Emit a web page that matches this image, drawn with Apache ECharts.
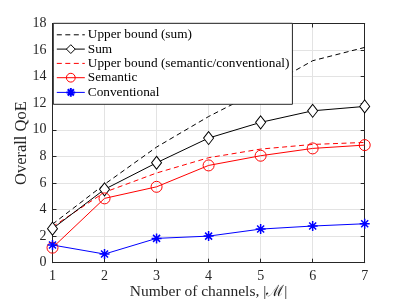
<!DOCTYPE html>
<html><head><meta charset="utf-8">
<script src="https://cdn.jsdelivr.net/npm/echarts@6/dist/echarts.min.js"></script>
<style>html,body{margin:0;padding:0;background:#fff}#c{width:403px;height:302px}</style>
</head><body><div id="c"></div>
<script>
const channels = [1, 2, 3, 4, 5, 6, 7];
const yTicks = [0, 2, 4, 6, 8, 10, 12, 14, 16, 18];
const upperSum = [2.9, 5.9, 8.7, 11.0, 13.0, 15.2, 16.2];
const sumQoE = [2.56, 5.52, 7.52, 9.38, 10.56, 11.43, 11.76];
const upperSem = [2.7, 5.3, 6.75, 7.9, 8.55, 8.9, 9.05];
const semantic = [1.13, 4.84, 5.71, 7.32, 8.05, 8.6, 8.85];
const conventional = [1.33, 0.65, 1.83, 2.0, 2.53, 2.76, 2.93];
const names = ['Upper bound (sum)', 'Sum', 'Upper bound (semantic/conventional)', 'Semantic', 'Conventional'];

const pairs = a => channels.map((x, i) => [x, a[i]]);
const FONT = 'Liberation Serif';
const axisCol = '#262626';
const asterisk = 'path://M0,-10L0,10M-10,0L10,0M-7,-7L7,7M-7,7L7,-7';
const dash = [5, 3.5];

const chart = echarts.init(document.getElementById('c'), null, {renderer: 'canvas'});
const baseX = {type: 'value', min: 1, max: 7, interval: 1,
  axisLine: {show: true, onZero: false, lineStyle: {color: axisCol, width: 1}},
  axisTick: {show: true, inside: true, length: 4, lineStyle: {color: axisCol}}};
const baseY = {type: 'value', min: 0, max: 18, interval: 2,
  axisLine: {show: true, onZero: false, lineStyle: {color: axisCol, width: 1}},
  axisTick: {show: true, inside: true, length: 4, lineStyle: {color: axisCol}}};
chart.setOption({
  animation: false,
  grid: {left: 52.5, right: 38.3, top: 23.5, bottom: 39.3, outerBoundsMode: 'none', containLabel: false},
  xAxis: [
    Object.assign({}, baseX, {position: 'bottom',
      name: 'Number of channels, |ℳ|', nameLocation: 'middle', nameGap: 21, nameMoveOverlap: false,
      nameTextStyle: {fontFamily: FONT, fontSize: 15.5, color: '#262626'},
      axisLabel: {fontFamily: FONT, fontSize: 14, color: '#262626', margin: 7},
      splitLine: {show: true, lineStyle: {color: '#e3e3e3', width: 1}}}),
    Object.assign({}, baseX, {position: 'top', axisLabel: {show: false}, splitLine: {show: false}})
  ],
  yAxis: [
    Object.assign({}, baseY, {position: 'left',
      name: 'Overall QoE', nameLocation: 'middle', nameGap: 22, nameMoveOverlap: false,
      nameTextStyle: {fontFamily: FONT, fontSize: 16.5, color: '#262626'},
      axisLabel: {fontFamily: FONT, fontSize: 14, color: '#262626', margin: 6,
        formatter: v => yTicks.includes(v) ? String(v) : ''},
      splitLine: {show: true, lineStyle: {color: '#e3e3e3', width: 1}}}),
    Object.assign({}, baseY, {position: 'right', axisLabel: {show: false}, splitLine: {show: false}})
  ],
  legend: {
    orient: 'vertical', left: 53.3, top: 23.3,
    data: [
      {name: names[0], itemStyle: {opacity: 0}},
      {name: names[1], itemStyle: {borderWidth: 1}},
      {name: names[2], itemStyle: {opacity: 0}},
      {name: names[3], itemStyle: {borderWidth: 1}},
      {name: names[4]}
    ],
    backgroundColor: '#fff', borderColor: axisCol, borderWidth: 1,
    padding: [5, 3, 5, 3], itemGap: 1.3, itemWidth: 28, itemHeight: 11,
    lineStyle: {width: 1},
    textStyle: {fontFamily: FONT, fontSize: 13.3, lineHeight: 11, color: '#000', padding: [0, 0, 0, -2]}
  },
  series: [
    {name: names[0], type: 'line', data: pairs(upperSum), symbol: 'none',
      lineStyle: {color: '#000', width: 1, type: dash}, itemStyle: {color: '#000'}, z: 3},
    {name: names[1], type: 'line', data: pairs(sumQoE), symbol: 'diamond', symbolSize: [10, 13],
      lineStyle: {color: '#000', width: 1}, itemStyle: {color: '#fff', borderColor: '#000', borderWidth: 1}, z: 4},
    {name: names[2], type: 'line', data: pairs(upperSem), symbol: 'none',
      lineStyle: {color: '#ff0000', width: 1, type: dash}, itemStyle: {color: '#ff0000'}, z: 3},
    {name: names[3], type: 'line', data: pairs(semantic), symbol: 'circle', symbolSize: 11,
      lineStyle: {color: '#ff0000', width: 1}, itemStyle: {color: 'rgba(255,255,255,0)', borderColor: '#ff0000', borderWidth: 1}, z: 4},
    {name: names[4], type: 'line', data: pairs(conventional), symbol: asterisk, symbolSize: 10,
      lineStyle: {color: '#0000ff', width: 1}, itemStyle: {color: 'none', borderColor: '#0000ff', borderWidth: 1.5}, z: 4}
  ]
});
</script></body></html>
